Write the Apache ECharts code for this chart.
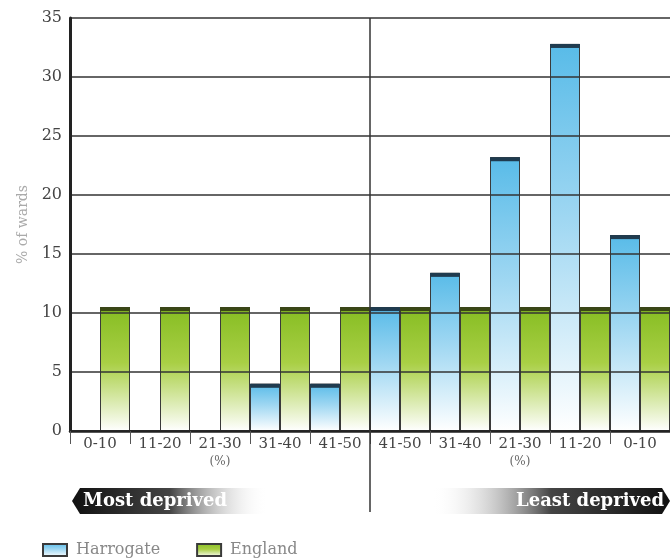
<!DOCTYPE html>
<html>
<head>
<meta charset="utf-8">
<script src="https://cdn.jsdelivr.net/npm/echarts@6/dist/echarts.min.js"></script>
<style>
  html, body { margin: 0; padding: 0; background: #fff; }
  #main { width: 670px; height: 559px; }
</style>
</head>
<body>
<div id="main"></div>
<script>
// categories: most deprived on the left, least deprived on the right
var categories = ['0-10', '11-20', '21-30', '31-40', '41-50', '41-50', '31-40', '21-30', '11-20', '0-10'];
var harrogate = [0, 0, 0, 4.0, 4.0, 10.5, 13.4, 23.2, 32.8, 16.6];
var england = [10.5, 10.5, 10.5, 10.5, 10.5, 10.5, 10.5, 10.5, 10.5, 10.5];
var yTicks = { min: 0, max: 35, interval: 5 };

var FONT = '"DejaVu Serif", "Liberation Serif", serif';

var chart = echarts.init(document.getElementById('main'));

function grad(top, mid, bottom) {
    return new echarts.graphic.LinearGradient(0, 0, 0, 1, [
        { offset: 0, color: top },
        { offset: 0.45, color: mid },
        { offset: 1, color: bottom }
    ]);
}

// cap data: [category index, value, series (0 = Harrogate, 1 = England)]
var capData = [];
for (var i = 0; i < categories.length; i++) {
    capData.push([i, harrogate[i], 0]);
    capData.push([i, england[i], 1]);
}

function renderCap(params, api) {
    var v = api.value(1);
    if (!v) return;
    var s = api.value(2);
    var p = api.coord([api.value(0), v]);
    var band = api.size([1, 0])[0];
    var w = band / 2;
    var x = s === 0 ? p[0] - w : p[0];
    return {
        type: 'rect',
        shape: { x: x, y: p[1], width: w, height: 4 },
        style: { fill: s === 0 ? '#1f3b4f' : '#3a4716' }
    };
}

var option = {
    backgroundColor: '#fff',
    animation: false,
    textStyle: { fontFamily: FONT },
    grid: { left: 70, top: 18, width: 603, bottom: 128, containLabel: false },
    legend: {
        data: ['Harrogate', 'England'],
        left: 37,
        top: 537,
        itemWidth: 24,
        itemHeight: 12,
        itemGap: 36,
        icon: 'rect',
        textStyle: { fontFamily: FONT, fontSize: 16, color: '#888', padding: [0, 0, 0, 4] }
    },
    xAxis: {
        type: 'category',
        data: categories,
        z: 5,
        axisLine: { lineStyle: { color: '#222', width: 2.5 } },
        axisTick: { show: true, length: 13, interval: 0, lineStyle: { color: '#555', width: 1 } },
        axisLabel: {
            interval: 0,
            margin: 6,
            fontFamily: FONT,
            fontSize: 15,
            color: '#444',
            formatter: function(val, idx) {
                if (idx === 2 || idx === 7) {
                    return val + '\n{p|(%)}';
                }
                return val;
            },
            rich: {
                p: { fontFamily: FONT, fontSize: 12, color: '#666', lineHeight: 20 }
            }
        }
    },
    yAxis: {
        type: 'value',
        min: yTicks.min,
        max: yTicks.max,
        interval: yTicks.interval,
        z: 5,
        name: '% of wards',
        nameLocation: 'middle',
        nameGap: 37,
        nameTextStyle: { fontFamily: FONT, fontSize: 14, color: '#aaa' },
        axisLine: { show: true, lineStyle: { color: '#222', width: 3 } },
        axisTick: { show: false },
        axisLabel: { fontFamily: FONT, fontSize: 16, color: '#444', margin: 8 },
        splitLine: { lineStyle: { color: '#333', width: 1.5 } }
    },
    series: [
        {
            name: 'Harrogate',
            type: 'bar',
            data: harrogate,
            barGap: '0%',
            barCategoryGap: '0%',
            itemStyle: {
                color: grad('#58bbe8', '#9fd7f2', '#ffffff'),
                borderColor: '#3a3a3a',
                borderWidth: 1
            },
            z: 2
        },
        {
            name: 'England',
            type: 'bar',
            data: england,
            barGap: '0%',
            barCategoryGap: '0%',
            itemStyle: {
                color: grad('#86bd22', '#a9cf45', '#ffffff'),
                borderColor: '#3a3a3a',
                borderWidth: 1
            },
            z: 2
        },
        {
            name: 'caps',
            type: 'custom',
            renderItem: renderCap,
            data: capData,
            encode: { x: 0, y: 1 },
            z: 6,
            silent: true
        }
    ]
};

chart.setOption(option);

// separator between the two halves and the deprivation banners
var a = chart.convertToPixel({ xAxisIndex: 0 }, 4);
var b = chart.convertToPixel({ xAxisIndex: 0 }, 5);
var midX = (a + b) / 2;
var topY = chart.convertToPixel({ yAxisIndex: 0 }, yTicks.max);

function banner(x0, x1, y0, h, tipLeft) {
    var pts;
    if (tipLeft) {
        pts = [[x0 + 8, y0], [x1, y0], [x1, y0 + h], [x0 + 8, y0 + h], [x0, y0 + h / 2]];
    } else {
        pts = [[x0, y0], [x1 - 8, y0], [x1, y0 + h / 2], [x1 - 8, y0 + h], [x0, y0 + h]];
    }
    var stops = tipLeft
        ? [{ offset: 0, color: '#111' }, { offset: 0.5, color: '#444' }, { offset: 1, color: 'rgba(255,255,255,0)' }]
        : [{ offset: 0, color: 'rgba(255,255,255,0)' }, { offset: 0.5, color: '#444' }, { offset: 1, color: '#111' }];
    return {
        type: 'polygon',
        shape: { points: pts },
        style: { fill: new echarts.graphic.LinearGradient(0, 0, 1, 0, stops) }
    };
}

chart.setOption({
    graphic: [
        {
            type: 'line',
            shape: { x1: midX, y1: topY, x2: midX, y2: 512 },
            style: { stroke: '#333', lineWidth: 1.5 },
            z: 10
        },
        banner(72, 268, 488, 26, true),
        {
            type: 'text',
            x: 83,
            y: 501,
            style: { text: 'Most deprived', fill: '#fff', font: 'bold 18px ' + FONT, verticalAlign: 'middle' }
        },
        banner(432, 670, 488, 26, false),
        {
            type: 'text',
            x: 664,
            y: 501,
            style: { text: 'Least deprived', fill: '#fff', font: 'bold 18px ' + FONT, align: 'right', verticalAlign: 'middle' }
        }
    ]
});
</script>
</body>
</html>
